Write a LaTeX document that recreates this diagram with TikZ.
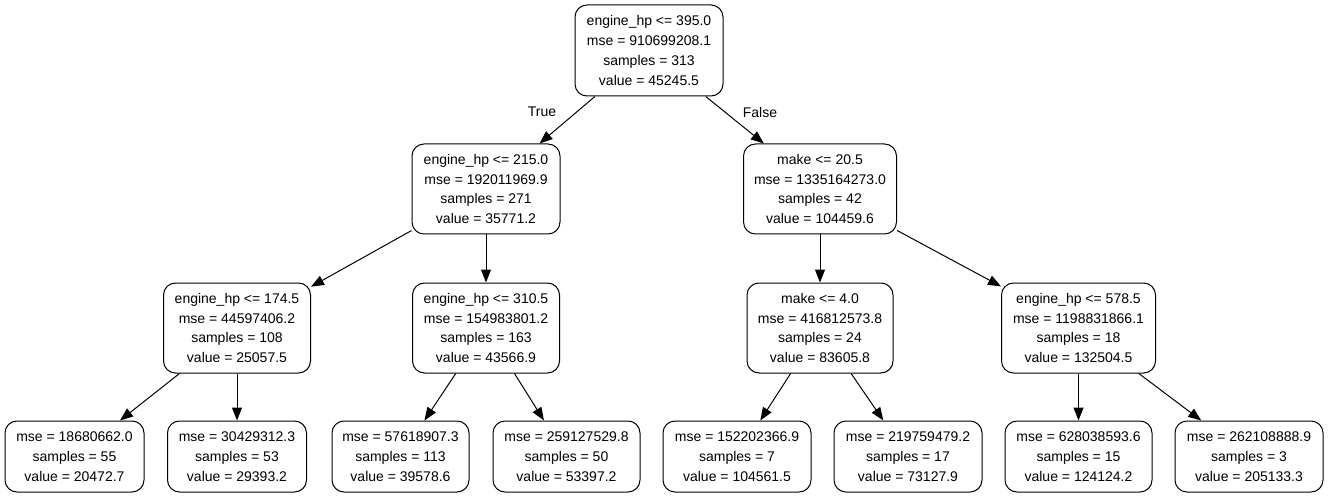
\documentclass[tikz,border=0pt]{standalone}
\usepackage{fontspec}
\setmainfont{Liberation Sans}
\usetikzlibrary{arrows.meta}
\begin{document}
\begin{tikzpicture}[x=1pt,y=-1pt,
  treenode/.style={draw, line width=1pt, rounded corners=12pt, align=center,
    inner sep=0pt, minimum height=90pt, font=\fontsize{14pt}{19.7pt}\selectfont},
  leafnode/.style={treenode, minimum height=71pt},
  link/.style={draw, line width=1pt, -{Triangle[length=13pt,width=10pt]}},
  lbl/.style={inner sep=0pt, font=\fontsize{14pt}{17pt}\selectfont}]
\useasboundingbox (0,0) rectangle (1328,497);

% decision nodes
\node[treenode, minimum width=148pt, minimum height=91pt] (n0) at (649,50.5)
  {engine\_hp <= 395.0\\mse = 910699208.1\\samples = 313\\value = 45245.5};
\node[treenode, minimum width=148pt] (n1) at (486,189)
  {engine\_hp <= 215.0\\mse = 192011969.9\\samples = 271\\value = 35771.2};
\node[treenode, minimum width=153pt] (n2) at (820,189)
  {make <= 20.5\\mse = 1335164273.0\\samples = 42\\value = 104459.6};
\node[treenode, minimum width=147pt] (n3) at (237,328)
  {engine\_hp <= 174.5\\mse = 44597406.2\\samples = 108\\value = 25057.5};
\node[treenode, minimum width=147pt] (n4) at (486,328)
  {engine\_hp <= 310.5\\mse = 154983801.2\\samples = 163\\value = 43566.9};
\node[treenode, minimum width=146pt] (n5) at (820,328)
  {make <= 4.0\\mse = 416812573.8\\samples = 24\\value = 83605.8};
\node[treenode, minimum width=154pt] (n6) at (1078.5,328)
  {engine\_hp <= 578.5\\mse = 1198831866.1\\samples = 18\\value = 132504.5};

% leaves
\node[leafnode, minimum width=139pt] (l1) at (74.5,456.5)
  {mse = 18680662.0\\samples = 55\\value = 20472.7};
\node[leafnode, minimum width=139pt] (l2) at (237,456.5)
  {mse = 30429312.3\\samples = 53\\value = 29393.2};
\node[leafnode, minimum width=137pt] (l3) at (400.5,456.5)
  {mse = 57618907.3\\samples = 113\\value = 39578.6};
\node[leafnode, minimum width=147pt] (l4) at (566.5,456.5)
  {mse = 259127529.8\\samples = 50\\value = 53397.2};
\node[leafnode, minimum width=148pt] (l5) at (737,456.5)
  {mse = 152202366.9\\samples = 7\\value = 104561.5};
\node[leafnode, minimum width=148pt] (l6) at (908,456.5)
  {mse = 219759479.2\\samples = 17\\value = 73127.9};
\node[leafnode, minimum width=147pt] (l7) at (1078.5,456.5)
  {mse = 628038593.6\\samples = 15\\value = 124124.2};
\node[leafnode, minimum width=148pt] (l8) at (1249,456.5)
  {mse = 262108888.9\\samples = 3\\value = 205133.3};

% branch labels
\node[lbl] (tTrue) at (542,112) {True};
\node[lbl] (tFalse) at (760,112) {False};

% connectors
\path[link] (n0) -- (n1);
\path[link] (n0) -- (n2);
\path[link] (n1) -- (n3);
\path[link] (n1) -- (n4);
\path[link] (n2) -- (n5);
\path[link] (n2) -- (n6);
\path[link] (n3) -- (l1);
\path[link] (n3) -- (l2);
\path[link] (n4) -- (l3);
\path[link] (n4) -- (l4);
\path[link] (n5) -- (l5);
\path[link] (n5) -- (l6);
\path[link] (n6) -- (l7);
\path[link] (n6) -- (l8);
\end{tikzpicture}
\end{document}
